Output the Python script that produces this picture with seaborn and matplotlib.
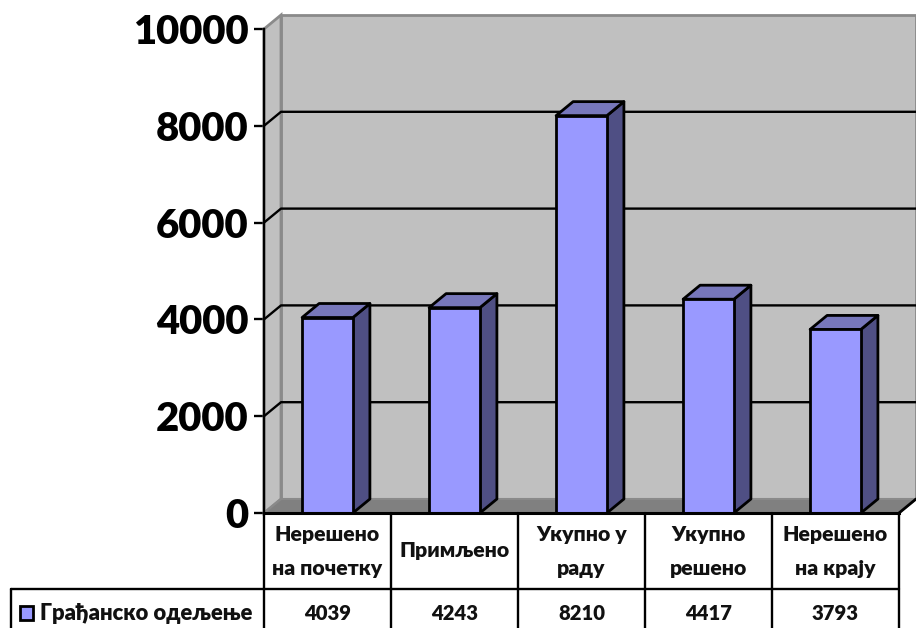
import matplotlib
matplotlib.use("Agg")
import matplotlib.pyplot as plt
from matplotlib.patches import Polygon, Rectangle
import seaborn as sns

categories = ["Нерешено\nна почетку", "Примљено", "Укупно у\nраду", "Укупно\nрешено", "Нерешено\nна крају"]
values = [4039, 4243, 8210, 4417, 3793]
series_name = "Грађанско одељење"
yticks = [0, 2000, 4000, 6000, 8000, 10000]

W, H = 916, 628
BAR = "#9999FF"; SIDE = "#4F4F84"; TOP = "#7777BB"
WALL = "#C0C0C0"; FLOOR = "#808080"; EDGE = "#8A8A8A"
DX, DY = 17 / 127, 14 / 484 * 10000   # depth of the 3D box in data units
FONT = ["Lato", "Noto Sans", "DejaVu Sans"]
LW = 2.0
GRID = 1.7

sns.set_theme(style="white")
plt.rcParams["font.family"] = FONT
fig = plt.figure(figsize=(W / 100, H / 100), dpi=100, facecolor="white")
ax = fig.add_axes([264 / W, (H - 513) / H, 635 / W, 484 / H])
ax.patch.set_visible(False)

sns.barplot(x=list(range(len(values))), y=values, color=BAR, saturation=1, width=0.4,
            edgecolor="black", linewidth=LW, ax=ax, native_scale=False)
for p in ax.patches:
    p.set_zorder(5)

x0, x1 = -0.5, 4.5
ymax = yticks[-1]
ax.set_xlim(x0, x1)
ax.set_ylim(0, ymax)

# walls and floor
ax.add_patch(Polygon([(x0 + DX, DY), (x1 + DX, DY), (x1 + DX, ymax + DY), (x0 + DX, ymax + DY)],
                     fc=WALL, ec=EDGE, lw=2, zorder=1, clip_on=False))
ax.add_patch(Polygon([(x0, 0), (x0 + DX, DY), (x0 + DX, ymax + DY), (x0, ymax)],
                     fc=WALL, ec=EDGE, lw=2, zorder=1, clip_on=False))
ax.add_patch(Polygon([(x0, 0), (x1, 0), (x1 + DX, DY), (x0 + DX, DY)],
                     fc=FLOOR, ec=EDGE, lw=1.5, zorder=1.5, clip_on=False))
ax.plot([x1, x1 + DX], [0, DY], color="black", lw=LW, zorder=2, clip_on=False)

# gridlines on the walls
for t in yticks[1:-1]:
    ax.plot([x0, x0 + DX, x1 + DX], [t, t + DY, t + DY], color="black", lw=GRID,
            zorder=2, clip_on=False)

# 3D sides and tops of the bars
for i, v in enumerate(values):
    l, r = i - 0.2, i + 0.2
    ax.add_patch(Polygon([(r, 0), (r + DX, DY), (r + DX, v + DY), (r, v)],
                         fc=SIDE, ec="black", lw=LW, joinstyle="round", zorder=4, clip_on=False))
    ax.add_patch(Polygon([(l, v), (r, v), (r + DX, v + DY), (l + DX, v + DY)],
                         fc=TOP, ec="black", lw=LW, joinstyle="round", zorder=4, clip_on=False))

# axes
for s in ["top", "right"]:
    ax.spines[s].set_visible(False)
for s in ["left", "bottom"]:
    ax.spines[s].set_color("black")
    ax.spines[s].set_zorder(6)
ax.spines["left"].set_linewidth(GRID)
ax.spines["bottom"].set_linewidth(2.2)
ax.set_yticks(yticks)
ax.set_yticklabels([str(t) for t in yticks], fontsize=28.8, fontweight="heavy", color="black")
ax.tick_params(axis="y", left=True, length=7.5, width=GRID, color="black", pad=3.5)
ax.tick_params(axis="x", bottom=False, labelbottom=False)
ax.set_xlabel(""); ax.set_ylabel("")

# data table, in an overlay with pixel coordinates
ov = fig.add_axes([0, 0, 1, 1], xlim=(0, W), ylim=(H, 0))
ov.axis("off"); ov.patch.set_visible(False)
cells = [264 + 127 * i for i in range(len(values) + 1)]
for cx in cells:
    ov.plot([cx, cx], [513, H + 2], color="black", lw=GRID, clip_on=False)
ov.plot([11, 11], [589, H + 2], color="black", lw=GRID)
ov.plot([11, cells[-1]], [589, 589], color="black", lw=GRID)
tkw = dict(ha="center", va="center", fontweight="heavy", color="#111111")
for i, (c, v) in enumerate(zip(categories, values)):
    xc = (cells[i] + cells[i + 1]) / 2
    parts = c.split("\n")
    if len(parts) == 2:
        ov.text(xc, 535, parts[0], fontsize=15.3, **tkw)
        ov.text(xc, 568, parts[1], fontsize=15.3, **tkw)
    else:
        ov.text(xc, 551, parts[0], fontsize=15.3, **tkw)
    ov.text(xc, 613, str(v), fontsize=14.6, **tkw)
ov.add_patch(Rectangle((20, 606), 13, 14, fc=BAR, ec="black", lw=LW))
ov.text(40, 613, series_name, ha="left", va="center", fontsize=15.8, fontweight="heavy",
        color="#111111")

fig.savefig("out.png", dpi=100, facecolor="white")
